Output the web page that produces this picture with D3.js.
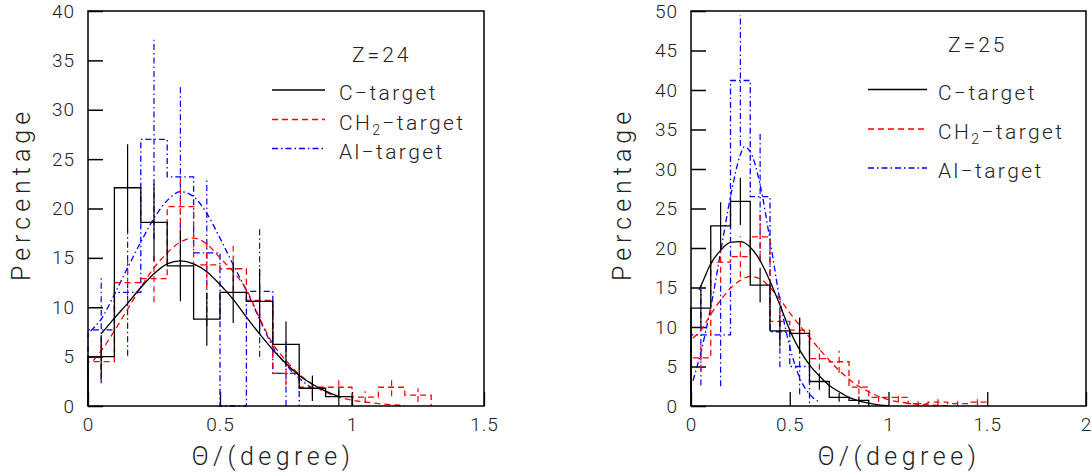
<!DOCTYPE html>
<html>
<head>
<meta charset="utf-8">
<script src="https://cdn.jsdelivr.net/npm/d3@7"></script>
<style>
  body { margin: 0; background: #fff; }
  svg text { font-family: Roboto, "Open Sans", "DejaVu Sans", sans-serif; font-weight: 300; fill: #222; }
</style>
</head>
<body>
<div id="chart-area"></div>
<script>
// bin centres in theta (degree), bin width 0.1
const binWidth = 0.1
const thetaBins = [0.05, 0.15, 0.25, 0.35, 0.45, 0.55, 0.65, 0.75, 0.85, 0.95, 1.05, 1.15, 1.25, 1.35, 1.45]

// Z=24 histograms (percentage) and errors
const z24C = [5.0, 22.1, 18.6, 14.2, 8.8, 11.5, 10.6, 6.25, 1.8, 0.95]
const z24CErr = [2.2, 4.4, 3.9, 3.6, 2.7, 3.1, 3.3, 2.3, 1.3, 0.9]
const z24CH2 = [4.5, 12.5, 12.9, 20.2, 14.3, 13.9, 10.7, 3.3, 1.9, 1.9, 0.9, 1.9, 1.1]
const z24CH2Err = [1.9, 2.3, 2.4, 2.8, 2.4, 2.3, 2.0, 1.2, 0.9, 0.9, 0.6, 0.9, 0.7]
const z24Al = [7.7, 11.5, 27.0, 23.2, 15.5, 0, 11.6, 3.3]
const z24AlErr = [5.4, 6.4, 10.1, 9.3, 7.4, 0, 6.6, 3.3]

// Z=24 fitted curves
const z24CFitX = [0.05, 0.1, 0.15, 0.2, 0.25, 0.3, 0.35, 0.4, 0.45, 0.5, 0.55, 0.6, 0.65, 0.7, 0.75, 0.8, 0.85, 0.9, 0.95]
const z24CFitY = [7.3, 8.9, 10.4, 12.0, 13.4, 14.4, 14.7, 14.4, 13.6, 12.3, 10.8, 9.0, 7.3, 5.7, 4.3, 3.1, 2.2, 1.5, 0.95]
const z24CH2FitX = [0.02, 0.05, 0.1, 0.15, 0.2, 0.25, 0.3, 0.35, 0.4, 0.45, 0.5, 0.55, 0.6, 0.65, 0.7, 0.75, 0.8, 0.85, 0.9, 0.95, 1.0, 1.1, 1.2]
const z24CH2FitY = [4.6, 5.6, 7.6, 9.8, 12.0, 14.0, 15.5, 16.6, 17.0, 16.4, 15.0, 13.6, 11.8, 8.9, 6.3, 4.6, 3.2, 2.2, 1.4, 0.9, 0.6, 0.25, 0.05]
const z24AlFitX = [0.01, 0.05, 0.1, 0.15, 0.2, 0.25, 0.3, 0.35, 0.4, 0.45, 0.5, 0.55, 0.6, 0.65, 0.7, 0.75, 0.8, 0.85]
const z24AlFitY = [7.6, 8.8, 11.3, 14.0, 16.6, 19.0, 20.8, 21.7, 21.2, 19.5, 17.0, 14.3, 11.7, 8.8, 6.0, 4.2, 2.8, 1.8]

// Z=25 histograms and errors
const z25C = [12.4, 22.8, 25.9, 15.3, 9.5, 9.2, 3.1, 1.1, 0.7]
const z25CErr = [2.3, 3.0, 3.0, 2.2, 2.0, 2.0, 1.05, 0.55, 0.5]
const z25CH2 = [6.1, 18.2, 18.9, 21.4, 10.7, 9.6, 6.0, 5.6, 2.4, 1.1, 1.1, 0.3, 0.5, 0.3, 0.5]
const z25CH2Err = [1.6, 2.6, 2.6, 2.8, 1.9, 1.8, 1.4, 1.4, 0.9, 0.6, 0.6, 0.3, 0.4, 0.3, 0.4]
const z25Al = [9.0, 9.0, 41.2, 26.5, 9.4, 5.0]
const z25AlErr = [6.4, 6.5, 8.3, 8.2, 4.5, 3.5]

// Z=25 fitted curves
const z25CFitX = [0.04, 0.05, 0.1, 0.15, 0.2, 0.25, 0.3, 0.35, 0.4, 0.45, 0.5, 0.55, 0.6, 0.65, 0.7, 0.75, 0.8, 0.85, 0.9, 0.95, 1.0]
const z25CFitY = [14.7, 15.2, 18.0, 19.7, 20.7, 20.8, 20.1, 18.4, 15.8, 12.8, 9.6, 7.1, 5.2, 3.8, 2.6, 1.8, 1.1, 0.65, 0.35, 0.15, 0.05]
const z25CH2FitX = [0.01, 0.05, 0.1, 0.15, 0.2, 0.25, 0.3, 0.35, 0.4, 0.45, 0.5, 0.55, 0.6, 0.65, 0.7, 0.75, 0.8, 0.85, 0.9, 0.95, 1.0, 1.1, 1.2, 1.3]
const z25CH2FitY = [8.6, 9.6, 11.6, 13.4, 14.9, 15.9, 16.4, 16.1, 15.0, 13.5, 11.8, 10.2, 8.7, 7.2, 5.8, 4.5, 3.4, 2.5, 1.8, 1.2, 0.8, 0.35, 0.15, 0.05]
const z25AlFitX = [0.01, 0.05, 0.1, 0.15, 0.2, 0.25, 0.27, 0.3, 0.35, 0.4, 0.45, 0.5, 0.55, 0.6, 0.65]
const z25AlFitY = [3.2, 6.8, 12.5, 19.5, 26.5, 31.8, 32.8, 32.2, 28.0, 21.0, 13.4, 7.5, 3.6, 1.5, 0.5]

// ticks
const z24YTicks = [0, 5, 10, 15, 20, 25, 30, 35, 40]
const z25YTicks = [0, 5, 10, 15, 20, 25, 30, 35, 40, 45, 50]
const z24XTicks = [0, 0.5, 1, 1.5]
const z24XLabels = ['0', '0.5', '1', '1.5']
const z25XTicks = [0, 0.5, 1, 1.5, 2]
const z25XLabels = ['0', '0.5', '1', '1.5', '2']

const legendNames = ['C', 'CH2', 'Al']

const styles = {
    C: { color: '#000', dash: null },
    CH2: { color: '#ff0000', dash: '6,4' },
    Al: { color: '#0000ff', dash: '6,3,1.5,3' }
}

const svg = d3.select('#chart-area').append('svg')
    .attr('width', 1092)
    .attr('height', 474)

svg.append('rect').attr('width', 1092).attr('height', 474).attr('fill', '#fff')

function drawPanel(p) {
    const x = d3.scaleLinear().domain(p.xDomain).range([p.left, p.right])
    const y = d3.scaleLinear().domain(p.yDomain).range([406, 11])
    const g = svg.append('g')

    // y axis, inward ticks
    const yAxis = g.append('g')
        .attr('transform', `translate(${p.left}, 0)`)
        .call(d3.axisLeft(y).tickValues(p.yTicks).tickSize(-15).tickPadding(13).tickFormat(d => d))
    yAxis.select('.domain').remove()
    yAxis.selectAll('line').attr('stroke', '#000').attr('stroke-width', 1.5)
    yAxis.selectAll('text').attr('font-size', '19px').attr('letter-spacing', '1px').attr('fill', '#222')

    const xAxis = g.append('g')
        .attr('transform', 'translate(0, 406)')
        .call(d3.axisBottom(x).tickValues(p.xTicks).tickSize(-14).tickPadding(12)
            .tickFormat((d, i) => p.xLabels[i]))
    xAxis.select('.domain').remove()
    xAxis.selectAll('line').attr('stroke', '#000').attr('stroke-width', 1.3)
    xAxis.selectAll('text').attr('font-size', '19px').attr('letter-spacing', '1px').attr('fill', '#222')

    const line = d3.line().x(d => x(d[0])).y(d => y(d[1]))

    p.series.forEach(s => {
        const st = styles[s.name]
        // step outline
        const pts = [[thetaBins[0] - binWidth / 2, 0]]
        s.values.forEach((v, i) => {
            pts.push([thetaBins[i] - binWidth / 2, v])
            pts.push([thetaBins[i] + binWidth / 2, v])
        })
        pts.push([thetaBins[s.values.length - 1] + binWidth / 2, 0])
        g.append('path')
            .attr('d', line(pts))
            .attr('fill', 'none')
            .attr('stroke', st.color)
            .attr('stroke-width', 1.3)
            .attr('stroke-dasharray', st.dash)

        // error bars
        g.selectAll(null).data(s.values.map((v, i) => [thetaBins[i], v, s.errors[i]]).filter(d => d[2] > 0))
            .enter().append('line')
            .attr('x1', d => x(d[0]))
            .attr('x2', d => x(d[0]))
            .attr('y1', d => y(Math.max(0, d[1] - d[2])))
            .attr('y2', d => y(d[1] + d[2]))
            .attr('stroke', st.color)
            .attr('stroke-width', 1.2)
            .attr('stroke-dasharray', st.dash)

        // fit curve
        g.append('path')
            .attr('d', d3.line().x(d => x(d[0])).y(d => y(d[1])).curve(d3.curveMonotoneX)(s.fitX.map((t, i) => [t, s.fitY[i]])))
            .attr('fill', 'none')
            .attr('stroke', st.color)
            .attr('stroke-width', 1.3)
            .attr('stroke-dasharray', st.dash)
    })

    // frame
    g.append('rect')
        .attr('x', p.left).attr('y', 11)
        .attr('width', p.right - p.left).attr('height', 395)
        .attr('fill', 'none').attr('stroke', '#000').attr('stroke-width', 1.5)

    // legend
    g.append('text').attr('x', p.zX).attr('y', p.zY)
        .attr('font-size', '21px').attr('letter-spacing', '3px').text(p.title)
    legendNames.forEach((n, i) => {
        const st = styles[n]
        const ly = p.legY[i]
        g.append('line')
            .attr('x1', p.legX1).attr('x2', p.legX2)
            .attr('y1', ly).attr('y2', ly)
            .attr('stroke', st.color).attr('stroke-width', 1.3)
            .attr('stroke-dasharray', st.dash)
        const t = g.append('text').attr('x', p.legTextX).attr('y', ly + 10)
            .attr('font-size', '21px').attr('letter-spacing', '2.4px')
        if (n === 'CH2') {
            t.append('tspan').text('CH')
            t.append('tspan').attr('font-size', '14px').attr('dy', 5).text('2')
            t.append('tspan').attr('dy', -5).text('\u2212target')
        } else {
            t.text(n + '\u2212target')
        }
    })

    // axis titles
    g.append('text')
        .attr('transform', `translate(${p.yTitleX}, 194) rotate(-90)`)
        .attr('text-anchor', 'middle')
        .attr('font-size', '25px')
        .attr('letter-spacing', '5px')
        .text('Percentage')
    g.append('text')
        .attr('x', p.xTitleX).attr('y', 465)
        .attr('text-anchor', 'middle')
        .attr('font-size', '25px')
        .attr('letter-spacing', '4.5px')
        .text('\u0398/(degree)')
}

drawPanel({
    left: 88, right: 484, xDomain: [0, 1.5], yDomain: [0, 40],
    yTicks: z24YTicks, xTicks: z24XTicks, xLabels: z24XLabels,
    title: 'Z=24', zX: 352, zY: 62,
    legX1: 272, legX2: 325, legTextX: 339, legY: [90, 119.5, 148.5],
    yTitleX: 30, xTitleX: 273,
    series: [
        { name: 'Al', values: z24Al, errors: z24AlErr, fitX: z24AlFitX, fitY: z24AlFitY },
        { name: 'CH2', values: z24CH2, errors: z24CH2Err, fitX: z24CH2FitX, fitY: z24CH2FitY },
        { name: 'C', values: z24C, errors: z24CErr, fitX: z24CFitX, fitY: z24CFitY }
    ]
})

drawPanel({
    left: 691, right: 1086, xDomain: [0, 2], yDomain: [0, 50],
    yTicks: z25YTicks, xTicks: z25XTicks, xLabels: z25XLabels,
    title: 'Z=25', zX: 948, zY: 52,
    legX1: 868, legX2: 927, legTextX: 938, legY: [89.5, 129, 168],
    yTitleX: 631, xTitleX: 899,
    series: [
        { name: 'Al', values: z25Al, errors: z25AlErr, fitX: z25AlFitX, fitY: z25AlFitY },
        { name: 'CH2', values: z25CH2, errors: z25CH2Err, fitX: z25CH2FitX, fitY: z25CH2FitY },
        { name: 'C', values: z25C, errors: z25CErr, fitX: z25CFitX, fitY: z25CFitY }
    ]
})
</script>
</body>
</html>
